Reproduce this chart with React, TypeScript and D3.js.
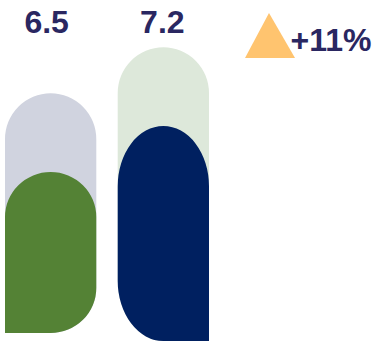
import React from "react";
import * as d3 from "d3";

// ---- data ----
const categories = ["Before", "After"];
const values = [6.5, 7.2];
const trackValues = [7.7, 8.4];
const valueLabels = ["6.5", "7.2"];
const changeLabel = "+11%";

// ---- layout / style ----
const W = 377;
const H = 341;
const bottoms = [333, 341];
const trackColors = ["#D0D3DF", "#DDE8DA"];
const barColors = ["#548235", "#002060"];
// which bottom corner is rounded for each bar
const roundBottomRight = [true, false];
const textColor = "#2A2761";
const arrowColor = "#FFC46F";

function barPath(
  x0: number,
  x1: number,
  y0: number,
  y1: number,
  ryTop: number,
  ryBot: number,
  br: boolean,
  bl: boolean
) {
  const rx = (x1 - x0) / 2;
  let s = `M${x0},${y0 + ryTop}`;
  s += `A${rx},${ryTop} 0 0 1 ${x0 + rx},${y0}`;
  s += `A${rx},${ryTop} 0 0 1 ${x1},${y0 + ryTop}`;
  s += `L${x1},${y1 - (br ? ryBot : 0)}`;
  if (br) s += `A${rx},${ryBot} 0 0 1 ${x1 - rx},${y1}`;
  s += `L${x0 + (bl ? rx : 0)},${y1}`;
  if (bl) s += `A${rx},${ryBot} 0 0 1 ${x0},${y1 - ryBot}`;
  s += "Z";
  return s;
}

export default function App() {
  const x = d3
    .scaleBand<string>()
    .domain(categories)
    .range([5, 209])
    .paddingInner(0.19)
    .paddingOuter(0);
  const y = d3.scaleLinear().domain([4, 8.5]).range([336.3, 40.6]);

  return (
    <svg
      width={W}
      height={H}
      style={{ position: "absolute", left: 0, top: 0, background: "#fff" }}
      fontFamily="'Liberation Sans', Arial, sans-serif"
    >
      {categories.map((c, i) => {
        const x0 = x(c)!;
        const x1 = x0 + x.bandwidth();
        const yb = bottoms[i];
        const ty = y(trackValues[i]);
        const vy = y(values[i]);
        const fh = yb - vy;
        const fry = fh * 0.28;
        const br = roundBottomRight[i];
        return (
          <g key={c}>
            <path
              d={barPath(x0, x1, ty, yb, 46, fry, br, !br)}
              fill={trackColors[i]}
            />
            <path
              d={barPath(x0, x1, vy, yb, fry, fry, br, !br)}
              fill={barColors[i]}
            />
            <text
              x={(x0 + x1) / 2 - (i === 0 ? 4 : 1)}
              y={33}
              textAnchor="middle"
              fontSize={32}
              fontWeight="bold"
              fill={textColor}
            >
              {valueLabels[i]}
            </text>
          </g>
        );
      })}
      <path d="M245,58L269,13L295,58Z" fill={arrowColor} />
      <text x={290.5} y={51} fontSize={32} fontWeight="bold" fill={textColor}>
        {changeLabel}
      </text>
    </svg>
  );
}
